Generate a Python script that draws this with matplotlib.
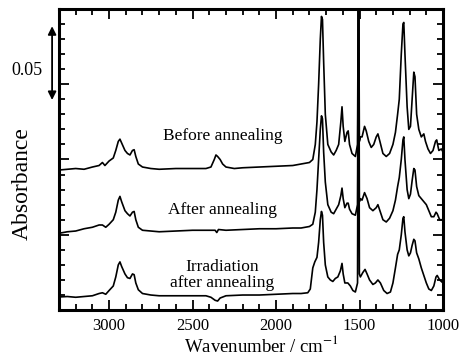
import matplotlib
matplotlib.use("Agg")
import matplotlib.pyplot as plt
from matplotlib.ticker import MultipleLocator
import matplotlib.transforms as mtransforms

plt.rcParams['font.family'] = ['Liberation Serif', 'DejaVu Serif']
plt.rcParams['mathtext.fontset'] = 'stix'

# ---- data (wavenumber / cm-1, absorbance incl. vertical offset) ----
wn_before = [3300, 3250, 3200, 3150, 3100, 3060, 3040, 3025, 3000, 2975, 2960, 2945, 2935, 2925, 2905,
             2890, 2875, 2860, 2850, 2840, 2825, 2800, 2750, 2700, 2600, 2500, 2420, 2390, 2370, 2360,
             2350, 2335, 2320, 2300, 2250, 2200, 2100, 2000, 1900, 1850, 1800, 1780, 1765, 1755, 1745,
             1735, 1728, 1722, 1715, 1705, 1690, 1670, 1655, 1640, 1625, 1612, 1605, 1598, 1588, 1575,
             1568, 1560, 1545, 1525, 1512, 1506, 1501, 1495, 1485, 1470, 1460, 1445, 1430, 1415, 1400,
             1390, 1378, 1360, 1340, 1320, 1300, 1285, 1272, 1262, 1250, 1240, 1235, 1228, 1215, 1205,
             1195, 1185, 1175, 1168, 1158, 1145, 1130, 1115, 1105, 1090, 1075, 1060, 1045, 1038, 1025,
             1010, 1000]
abs_before = [0.093, 0.0935, 0.094, 0.0935, 0.095, 0.096, 0.098, 0.096, 0.099, 0.101, 0.106, 0.112, 0.1135, 0.111, 0.106,
              0.104, 0.103, 0.106, 0.1065, 0.102, 0.097, 0.095, 0.094, 0.0935, 0.094, 0.094, 0.094, 0.095, 0.100, 0.103,
              0.102, 0.100, 0.097, 0.095, 0.094, 0.0945, 0.095, 0.0955, 0.096, 0.097, 0.098, 0.100, 0.110, 0.125, 0.150,
              0.180, 0.195, 0.193, 0.165, 0.130, 0.110, 0.105, 0.103, 0.106, 0.110, 0.125, 0.135, 0.122, 0.112, 0.118,
              0.119, 0.110, 0.104, 0.102, 0.110, 0.260, 0.112, 0.115, 0.115, 0.122, 0.119, 0.112, 0.108, 0.110, 0.115,
              0.117, 0.112, 0.104, 0.102, 0.104, 0.110, 0.118, 0.130, 0.140, 0.170, 0.190, 0.191, 0.170, 0.135, 0.120,
              0.122, 0.140, 0.158, 0.155, 0.130, 0.120, 0.115, 0.117, 0.112, 0.107, 0.104, 0.106, 0.112, 0.113, 0.106,
              0.107, 0.105]

wn_after = [3300, 3250, 3200, 3150, 3100, 3060, 3040, 3020, 3000, 2975, 2960, 2945, 2935, 2925, 2905,
            2890, 2875, 2860, 2850, 2840, 2825, 2800, 2750, 2700, 2600, 2500, 2400, 2365, 2355, 2345,
            2300, 2200, 2100, 2000, 1900, 1850, 1800, 1780, 1765, 1755, 1745, 1735, 1728, 1722, 1715,
            1705, 1690, 1670, 1655, 1640, 1625, 1612, 1605, 1598, 1588, 1575, 1568, 1560, 1545, 1525,
            1512, 1506, 1501, 1495, 1485, 1470, 1455, 1440, 1420, 1400, 1390, 1378, 1360, 1340, 1320,
            1300, 1285, 1272, 1262, 1250, 1240, 1235, 1228, 1215, 1205, 1195, 1185, 1175, 1168, 1158,
            1145, 1130, 1115, 1100, 1085, 1070, 1055, 1042, 1035, 1020, 1010, 1000]
abs_after = [0.051, 0.052, 0.0525, 0.054, 0.055, 0.0565, 0.0565, 0.055, 0.057, 0.060, 0.065, 0.073, 0.0755, 0.072, 0.066,
             0.064, 0.0625, 0.065, 0.0655, 0.060, 0.055, 0.053, 0.0525, 0.052, 0.0525, 0.053, 0.053, 0.053, 0.0515, 0.0535,
             0.053, 0.0535, 0.054, 0.054, 0.0545, 0.0545, 0.0555, 0.057, 0.065, 0.080, 0.100, 0.120, 0.129, 0.127, 0.105,
             0.085, 0.070, 0.065, 0.064, 0.067, 0.070, 0.076, 0.081, 0.074, 0.068, 0.071, 0.071, 0.067, 0.064, 0.063,
             0.070, 0.260, 0.072, 0.074, 0.073, 0.078, 0.074, 0.068, 0.066, 0.068, 0.070, 0.066, 0.060, 0.0585, 0.061,
             0.066, 0.073, 0.082, 0.088, 0.100, 0.113, 0.115, 0.100, 0.080, 0.074, 0.077, 0.086, 0.094, 0.093, 0.082,
             0.076, 0.074, 0.072, 0.070, 0.066, 0.062, 0.062, 0.065, 0.064, 0.060, 0.060, 0.060]

wn_irrad = [3300, 3250, 3200, 3150, 3100, 3060, 3040, 3020, 3000, 2975, 2960, 2945, 2935, 2925, 2905,
            2890, 2875, 2860, 2850, 2840, 2825, 2800, 2750, 2700, 2600, 2500, 2420, 2390, 2365, 2350,
            2335, 2300, 2200, 2100, 2000, 1900, 1850, 1810, 1795, 1780, 1768, 1755, 1745, 1735, 1728,
            1722, 1715, 1705, 1690, 1675, 1660, 1645, 1630, 1615, 1605, 1598, 1588, 1570, 1555, 1540,
            1525, 1512, 1506, 1501, 1495, 1480, 1467, 1455, 1440, 1420, 1405, 1390, 1375, 1355, 1335,
            1315, 1300, 1285, 1272, 1262, 1250, 1240, 1235, 1228, 1215, 1205, 1195, 1185, 1175, 1168,
            1158, 1145, 1130, 1115, 1100, 1085, 1070, 1055, 1042, 1035, 1020, 1010, 1000]
abs_irrad = [0.0087, 0.009, 0.0085, 0.009, 0.0095, 0.011, 0.0115, 0.0105, 0.013, 0.016, 0.022, 0.030, 0.032, 0.029, 0.024,
             0.0215, 0.021, 0.024, 0.0235, 0.018, 0.0135, 0.011, 0.010, 0.0095, 0.0095, 0.0095, 0.0095, 0.0085, 0.0065, 0.006,
             0.008, 0.0095, 0.010, 0.010, 0.0105, 0.011, 0.011, 0.0115, 0.014, 0.028, 0.032, 0.035, 0.045, 0.060, 0.0655,
             0.063, 0.045, 0.030, 0.022, 0.020, 0.019, 0.021, 0.022, 0.026, 0.031, 0.024, 0.018, 0.018, 0.016, 0.013,
             0.012, 0.018, 0.260, 0.024, 0.022, 0.025, 0.027, 0.024, 0.020, 0.017, 0.018, 0.020, 0.018, 0.013, 0.011,
             0.012, 0.018, 0.028, 0.037, 0.040, 0.050, 0.061, 0.062, 0.052, 0.040, 0.036, 0.038, 0.043, 0.047, 0.046,
             0.038, 0.034, 0.028, 0.023, 0.018, 0.014, 0.013, 0.016, 0.022, 0.023, 0.020, 0.019, 0.018]

labels = ["Before annealing", "After annealing", "Irradiation\nafter annealing"]
label_pos = [(2320, 0.1153), (2320, 0.0667), (2325, 0.0233)]

# ---- figure ----
fig = plt.figure(figsize=(4.61, 3.56), dpi=100)
ax = fig.add_axes([0.128, 0.129, 0.833, 0.846])

for wn, ab in [(wn_before, abs_before), (wn_after, abs_after), (wn_irrad, abs_irrad)]:
    ax.plot(wn, ab, color='black', lw=1.2)

for txt, (x, y) in zip(labels, label_pos):
    ax.text(x, y, txt, ha='center', va='center', fontsize=12.5, linespacing=0.95)

ax.set_xlim(3300, 1000)
ax.set_ylim(0, 0.2)
ax.xaxis.set_major_locator(MultipleLocator(500))
ax.xaxis.set_minor_locator(MultipleLocator(100))
ax.yaxis.set_major_locator(MultipleLocator(0.05))
ax.yaxis.set_minor_locator(MultipleLocator(0.01))
ax.tick_params(which='both', direction='in', top=True, right=True, width=1.3)
ax.tick_params(which='major', length=7, labelsize=12, pad=6)
ax.tick_params(which='minor', length=4)
ax.tick_params(axis='y', which='both', labelleft=False)
for s in ax.spines.values():
    s.set_linewidth(2.2)

ax.set_xlabel("Wavenumber / cm$^{-1}$", fontsize=13.5)
ax.xaxis.set_label_coords(0.526, -0.083)
ax.set_ylabel("Absorbance", fontsize=17)
ax.yaxis.set_label_coords(-0.068, 0.42)

# scale arrow
trans = mtransforms.blended_transform_factory(ax.transAxes, ax.transData)
ax.annotate("", xy=(-0.018, 0.1395), xytext=(-0.018, 0.1885), xycoords=trans, textcoords=trans,
            arrowprops=dict(arrowstyle='<|-|>', color='black', lw=1.3, mutation_scale=12,
                            shrinkA=0, shrinkB=0), annotation_clip=False)
ax.text(-0.083, 0.159, "0.05", transform=trans, ha='center', va='center', fontsize=13)

fig.savefig("out.png", dpi=100)
